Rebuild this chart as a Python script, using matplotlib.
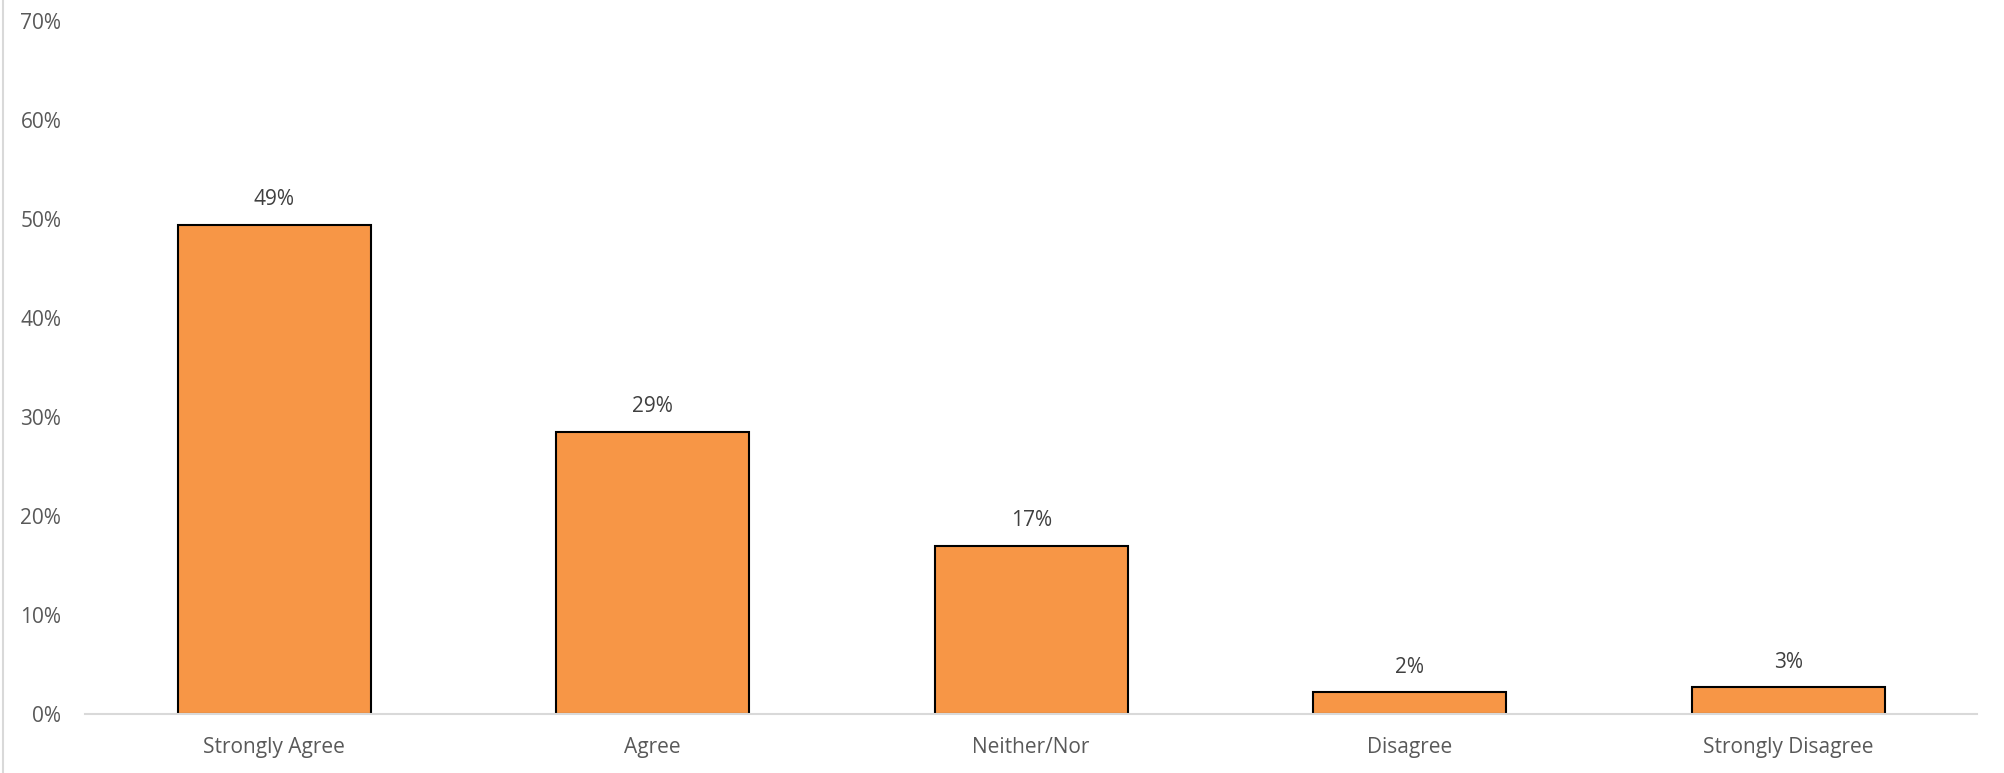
import matplotlib.pyplot as plt
from matplotlib.lines import Line2D
from matplotlib.ticker import PercentFormatter

categories = ['Strongly Agree', 'Agree', 'Neither/Nor', 'Disagree', 'Strongly Disagree']
values = [49.4, 28.5, 17.0, 2.2, 2.7]
labels = ['49%', '29%', '17%', '2%', '3%']
y_ticks = [0, 10, 20, 30, 40, 50, 60, 70]

plt.rcParams['font.family'] = ['Open Sans', 'DejaVu Sans']
txt_color = '#595959'

fig = plt.figure(figsize=(20.04, 7.73), dpi=100)
ax = fig.add_axes([0.0424, 0.0763, 0.9443, 0.8965])

x = range(len(categories))
ax.bar(x, values, width=0.51, color='#F79646', edgecolor='black', linewidth=1.5, zorder=3)
for i, (v, lab) in enumerate(zip(values, labels)):
    ax.annotate(lab, (i, v), xytext=(0, 18), textcoords='offset points',
                ha='center', va='center', fontsize=15, color='#404040')

ax.set_xlim(-0.5, len(categories) - 0.5)
ax.set_ylim(0, 70)
ax.set_yticks(y_ticks)
ax.yaxis.set_major_formatter(PercentFormatter(decimals=0))
ax.set_xticks(list(x))
ax.set_xticklabels(categories)
ax.tick_params(axis='y', length=0, pad=17, labelsize=15, labelcolor=txt_color)
ax.tick_params(axis='x', length=0, pad=16.5, labelsize=15, labelcolor=txt_color)
for s in ['top', 'right', 'left']:
    ax.spines[s].set_visible(False)
ax.spines['bottom'].set_color('#D9D9D9')
ax.spines['bottom'].set_linewidth(1.5)
ax.spines['bottom'].set_zorder(4)

# chart area border at left edge
fig.add_artist(Line2D([0.0015, 0.0015], [0, 1], color='#D9D9D9', linewidth=1.5))

fig.savefig('out.png', dpi=100)
